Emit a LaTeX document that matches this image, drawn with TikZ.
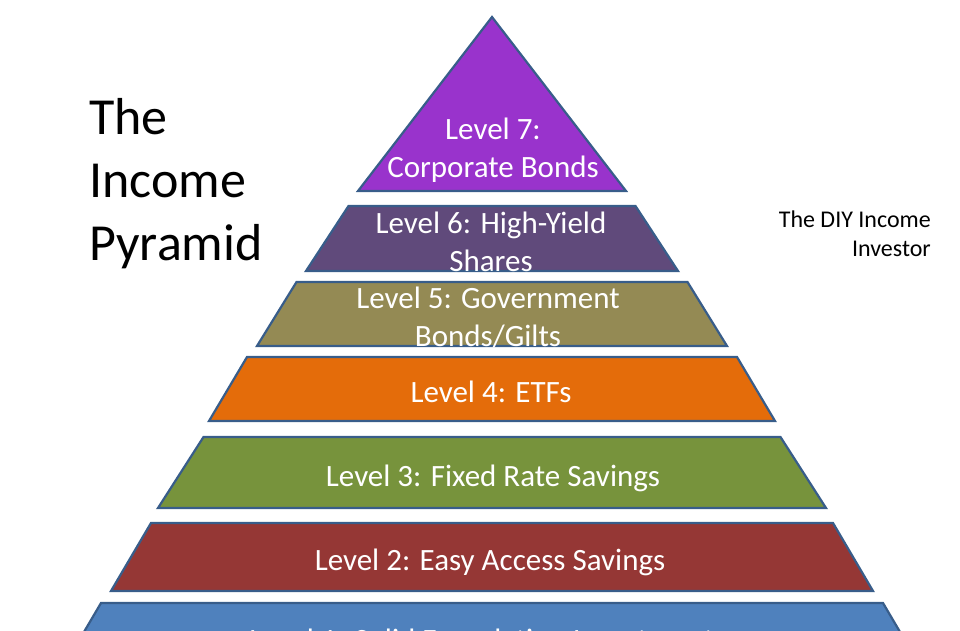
\documentclass[tikz,border=0pt]{standalone}
\usepackage{fontspec}
\setmainfont{Carlito}
\usepackage{xcolor}
\usepackage{tikz}
\definecolor{lvseven}{RGB}{153,51,204}
\definecolor{lvsix}{RGB}{96,74,123}
\definecolor{lvfive}{RGB}{148,138,84}
\definecolor{lvfour}{RGB}{228,108,10}
\definecolor{lvthree}{RGB}{119,147,60}
\definecolor{lvtwo}{RGB}{149,55,53}
\definecolor{lvone}{RGB}{79,129,189}
\definecolor{edgeblue}{RGB}{56,93,138}
\newcommand{\lvlfont}{\fontsize{31}{38}\selectfont}
\begin{document}
\begin{tikzpicture}[x=1pt,y=-1pt,
  layer/.style={draw=edgeblue,line width=2.2pt,line join=miter},
  lvl/.style={text=white,font=\lvlfont,align=center,inner sep=0pt,anchor=base}]
\useasboundingbox (0,0) rectangle (960,630);
\clip (0,0) rectangle (960,630);
% layers: top y / bottom y / top half width / bottom half width / colour
\foreach \yt/\yb/\wt/\wb/\col in {206/271/143.5/186/lvsix,282/346/195.5/235/lvfive,357/421/245/283/lvfour,437/508/288.5/334/lvthree,523/591/341/381/lvtwo,603/700/391/448/lvone}{
  \filldraw[layer,fill=\col] (492-\wt,\yt)--(492+\wt,\yt)--(492+\wb,\yb)--(492-\wb,\yb)--cycle;}
\filldraw[layer,fill=lvseven] (492,17)--(626,191)--(358,191)--cycle;
% labels (base = last line)
\node[lvl] (seven) at (493,177) {Level 7:\\Corporate Bonds};
\node[lvl] (six) at (491,271) {Level 6: High-Yield\\Shares};
\node[lvl] (five) at (488,346) {Level 5: Government\\Bonds/Gilts};
\node[lvl] (four) at (491,402) {Level 4: ETFs};
\node[lvl] (three) at (493,486) {Level 3: Fixed Rate Savings};
\node[lvl] (two) at (490,570) {Level 2: Easy Access Savings};
\node[lvl] (one) at (488,650) {Level 1: Solid Foundation Investments};
\node[font=\fontsize{52}{63}\selectfont,align=left,inner sep=0pt,anchor=base west] (title) at (89,260) {The\\Income\\Pyramid};
\node[font=\fontsize{24}{29}\selectfont,align=right,inner sep=0pt,anchor=base east] (brand) at (931,256) {The DIY Income\\Investor};
\end{tikzpicture}
\end{document}
